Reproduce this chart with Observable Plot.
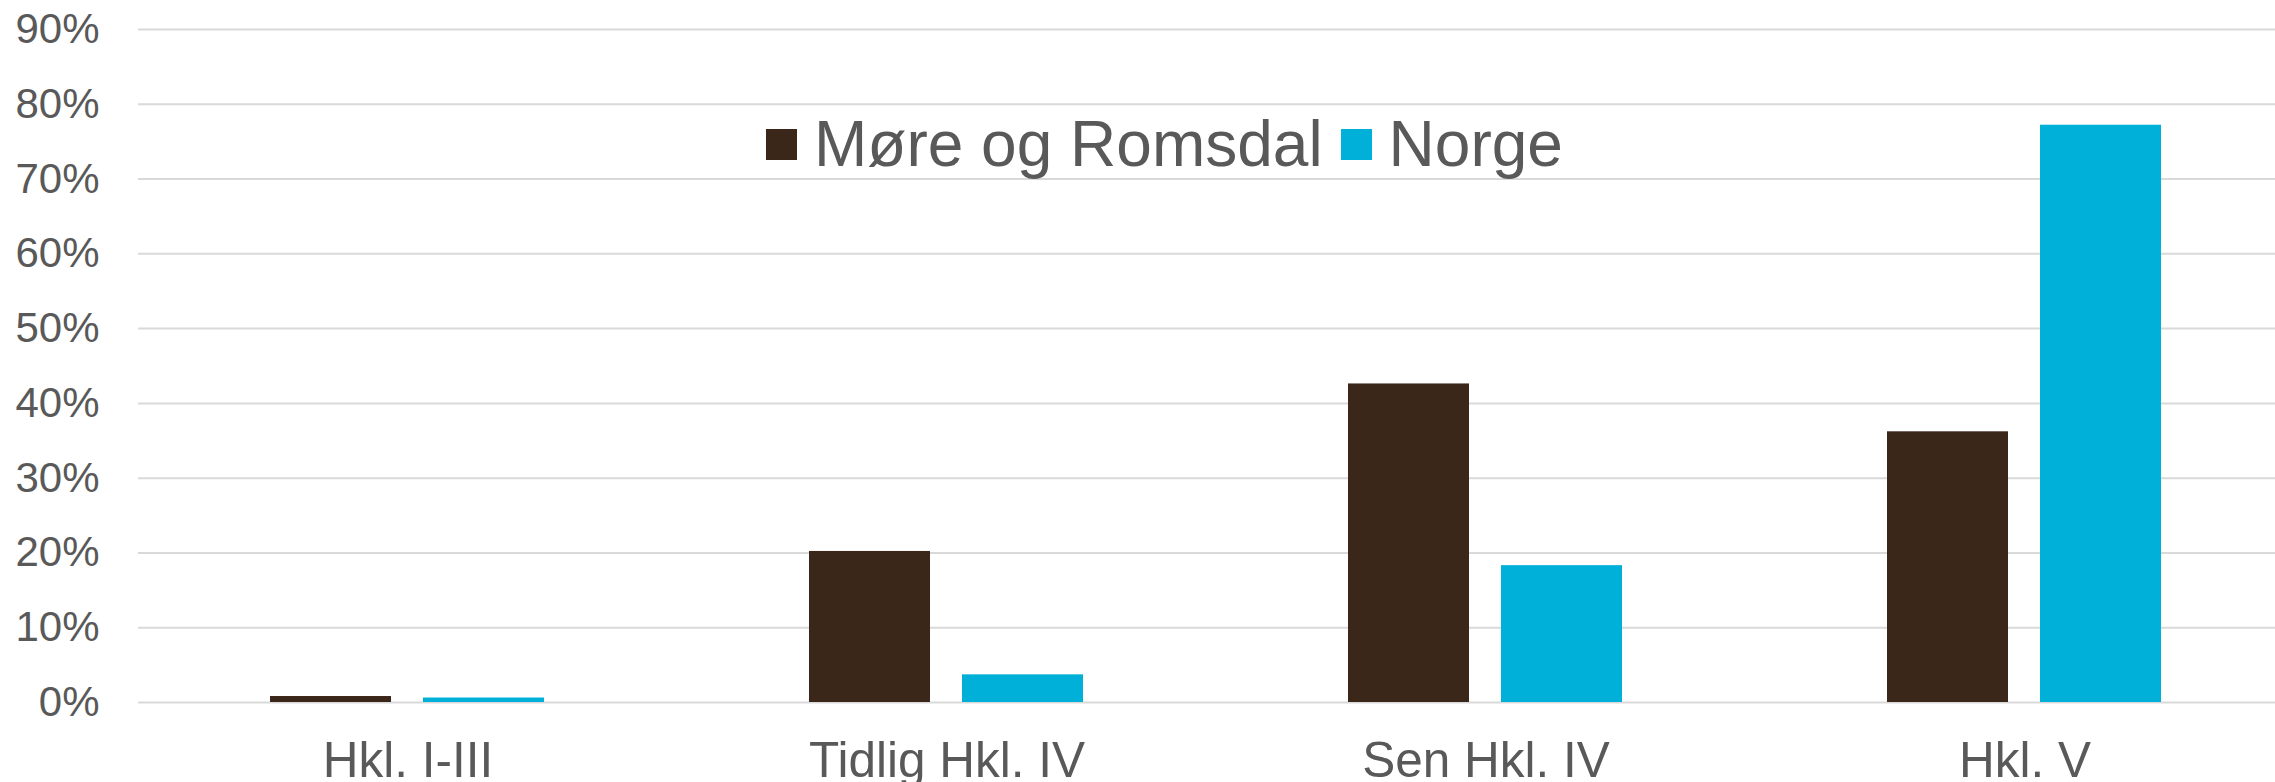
<!DOCTYPE html>
<html>
<head>
<meta charset="utf-8">
<script src="https://cdn.jsdelivr.net/npm/d3@7"></script>
<script src="https://cdn.jsdelivr.net/npm/@observablehq/plot@0.6"></script>
<style>
  html, body { margin: 0; padding: 0; background: #fff; overflow: hidden; }
  #wrap { position: relative; width: 2275px; height: 782px; }
  #legend { position: absolute; left: 766px; top: 112px; display: flex; align-items: center;
    font-family: "Liberation Sans", Arial, sans-serif; font-size: 64px; color: #595959; line-height: 1; }
  #legend .sw { width: 31px; height: 31px; display: inline-block; margin-right: 17px; }
  #legend .item { display: flex; align-items: center; margin-right: 18px; }
</style>
</head>
<body>
<div id="wrap"><div id="legend"></div></div>
<script>
const categories = ["Hkl. I-III", "Tidlig Hkl. IV", "Sen Hkl. IV", "Hkl. V"];
const series = ["Møre og Romsdal", "Norge"];
const moreValues = [0.8, 20.2, 42.6, 36.2];
const norgeValues = [0.6, 3.7, 18.3, 77.2];
const colors = ["#3B2719", "#00B0D8"];
const yTicks = [0, 10, 20, 30, 40, 50, 60, 70, 80, 90];

const data = [];
categories.forEach((c, i) => {
  data.push({category: c, series: series[0], value: moreValues[i]});
  data.push({category: c, series: series[1], value: norgeValues[i]});
});

const font = "Liberation Sans, Arial, sans-serif";
const chart = Plot.plot({
  width: 2275,
  height: 782,
  marginLeft: 138,
  marginRight: -19,
  marginTop: 29,
  marginBottom: 80,
  style: {fontFamily: font, background: "#fff"},
  fx: {domain: categories, padding: 0, label: null},
  x: {domain: series, axis: null, paddingInner: 0.2085, paddingOuter: 0.864},
  y: {domain: [0, 90], label: null},
  color: {domain: series, range: colors},
  marks: [
    Plot.gridY(yTicks, {stroke: "#d9d9d9", strokeOpacity: 1, strokeWidth: 2}),
    Plot.barY(data, {fx: "category", x: "series", y: "value", fill: "series"}),
    Plot.axisY(yTicks, {tickSize: 0, tickPadding: 39, tickFormat: d => d + "%", fontSize: 42, fill: "#595959", label: null}),
    Plot.axisFx({tickSize: 0, tickPadding: 39, fontSize: 49.5, fill: "#595959", label: null, anchor: "bottom"})
  ]
});
document.getElementById("wrap").prepend(chart);

const legend = document.getElementById("legend");
series.forEach((s, i) => {
  const item = document.createElement("span");
  item.className = "item";
  const sw = document.createElement("span");
  sw.className = "sw";
  sw.style.background = colors[i];
  item.appendChild(sw);
  item.appendChild(document.createTextNode(s));
  legend.appendChild(item);
});
</script>
</body>
</html>
